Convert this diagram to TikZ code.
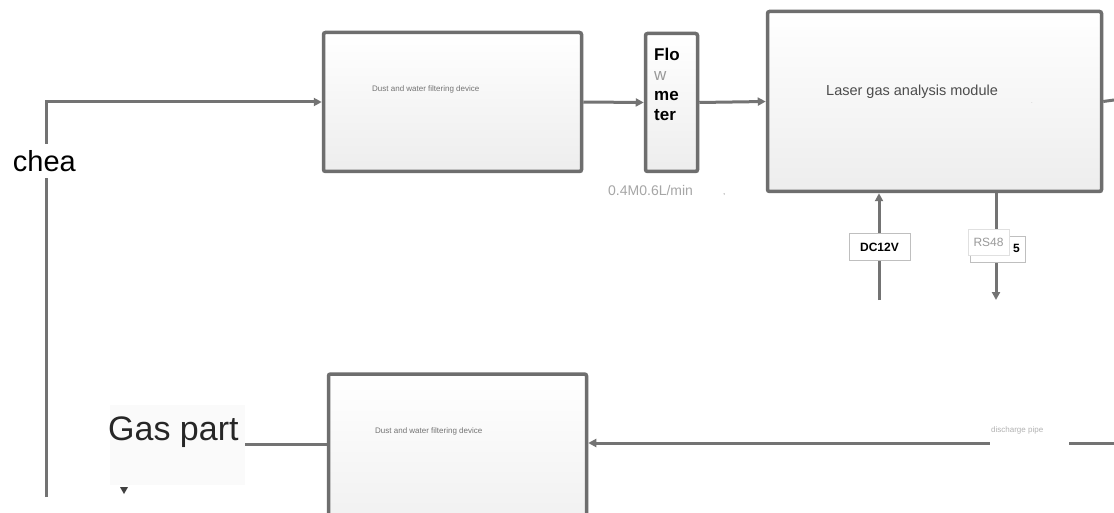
\documentclass[tikz,border=0pt]{standalone}
\usepackage{fontspec}
\setmainfont{Liberation Sans}
\usetikzlibrary{arrows.meta,shadows}
\definecolor{ln}{HTML}{737373}
\definecolor{bd}{HTML}{6E6E6E}
\tikzset{
  dev/.style={draw=bd, line width=3.5pt, rounded corners=2pt, top color=white, bottom color=black!7,
    inner sep=0pt, drop shadow={shadow xshift=1.5pt, shadow yshift=-1.5pt, opacity=0.25}},
  conn/.style={draw=ln, line width=3pt},
  tipped/.style={-{Triangle[length=8pt,width=8pt]}},
  tiny/.style={font=\fontsize{8}{9}\selectfont, text=black!55, inner sep=0pt},
  tag/.style={draw=black!25, line width=0.6pt, fill=white, inner sep=2pt}
}
\begin{document}
\begin{tikzpicture}[x=1pt,y=-1pt]
\useasboundingbox (0,0) rectangle (1114,513);
\clip (0,0) rectangle (1114,513);
\fill[white] (0,0) rectangle (1114,513);

% boxes
\node[dev, minimum width=258pt, minimum height=139pt] (f1) at (452.5,102) {};
\node[tiny, anchor=west] (f1t) at (372,89) {Dust and water filtering device};

\node[dev, minimum width=52pt, minimum height=138pt] (fm) at (671.5,102.5) {};
\node[align=left, anchor=north west, inner sep=0pt, font=\fontsize{17}{20}\selectfont] (fmt) at (654,48)
  {\textbf{Flo}\\ {\color{black!40}w}\\ \textbf{me}\\ \textbf{ter}};
\node[anchor=west, inner sep=0pt, text=black!35, font=\fontsize{14}{16}\selectfont] (rate) at (608,190) {0.4M0.6L/min};
\node[anchor=west, inner sep=0pt, text=black!45, font=\fontsize{8}{8}\selectfont] (rcm) at (723,195) {,};

\node[dev, minimum width=334pt, minimum height=180pt] (lg) at (934.5,101.5) {};
\node[anchor=west, inner sep=0pt, text=black!70, font=\fontsize{14.5}{16}\selectfont] (lgt) at (826,92) {Laser gas analysis module};
\node[anchor=west, inner sep=0pt, text=black!30, font=\fontsize{6}{6}\selectfont] (lgm) at (1031,103) {.};

\node[dev, minimum width=258pt, minimum height=184pt] (f2) at (457.5,466) {};
\node[tiny, anchor=west] (f2t) at (375,431) {Dust and water filtering device};

% coordinates
\coordinate (lb) at (46,497);
\coordinate (dcb) at (879,300);
\coordinate (rsb) at (996,300);
\coordinate (re) at (1114,100);
\coordinate (rin) at (1114,443);
\coordinate (gp) at (245,444);

% connectors
\draw[conn, tipped] (lb) |- (f1.west);
\draw[conn, tipped] (f1.east) -- (fm.west);
\draw[conn, tipped] (fm.east) -- (lg.west);
\draw[conn] (lg.east) -- (re);
\draw[conn, tipped] (dcb) -- (lg.south -| dcb);
\draw[conn, tipped] (lg.south -| rsb) -- (rsb);
\draw[conn, tipped] (rin) -- (f2.east |- rin);
\draw[conn] (gp) -- (f2.west |- gp);

% labels
\node[fill=white, anchor=east, inner sep=2pt, font=\fontsize{29}{30}\selectfont, minimum height=34pt] (tr) at (78,161) {chea};
\node[tag, font=\fontsize{12}{13}\selectfont\bfseries, minimum width=61pt, minimum height=27pt] (dc) at (879.5,247) {DC12V};
\node[tag, minimum width=55pt, minimum height=26pt] (rs5) at (997.5,249) {};
\node[anchor=west, inner sep=0pt, font=\fontsize{12}{13}\selectfont\bfseries] (rsfive) at (1013,248) {5};
\node[tag, draw=black!12, text=black!40, font=\fontsize{12}{13}\selectfont, minimum width=41pt, minimum height=26pt] (rs) at (988.5,242) {RS48};
\node[fill=white, minimum width=79pt, minimum height=34pt] (dp) at (1029.5,440) {};
\node[tiny, text=black!30, anchor=west] (dpt) at (991,430) {discharge pipe};
\node[fill=white!98!black, anchor=north west, minimum width=135pt, minimum height=80pt] (gpb) at (110,405) {};
\node[anchor=west, inner sep=0pt, font=\fontsize{34}{36}\selectfont, text=black!85] (gpt) at (108,432) {Gas part};
\fill[black!75] (120,487) -- (128,487) -- (124,494) -- cycle;
\end{tikzpicture}
\end{document}
